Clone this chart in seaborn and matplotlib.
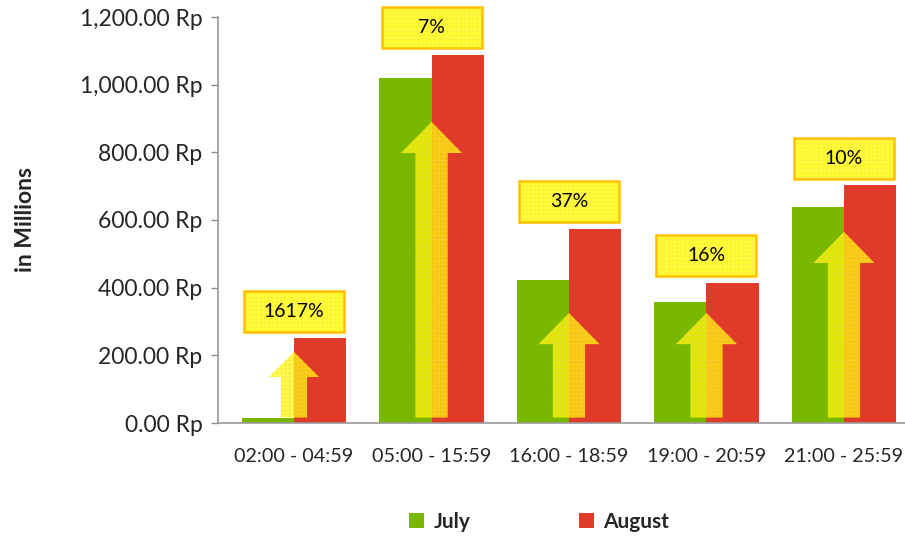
import matplotlib
matplotlib.use("Agg")
import matplotlib.pyplot as plt
import seaborn as sns
import pandas as pd
from matplotlib.patches import Polygon, Patch, Rectangle
from matplotlib.ticker import FuncFormatter
from matplotlib.transforms import ScaledTranslation

# ---- data ----
categories = ["02:00 - 04:59", "05:00 - 15:59", "16:00 - 18:59", "19:00 - 20:59", "21:00 - 25:59"]
july = [14.6, 1020, 423, 359, 638]
august = [251, 1088, 574, 415, 703]
growth_labels = ["1617%", "7%", "37%", "16%", "10%"]
# decorative arrow tips (data units)
arrow_tips = [210, 890, 325, 325, 565]

df = pd.DataFrame({
    "Slot": categories * 2,
    "Value": july + august,
    "Month": ["July"] * len(categories) + ["August"] * len(categories),
})

sns.set_theme(style="white")
plt.rcParams["font.family"] = ["Lato", "DejaVu Sans"]
plt.rcParams["hatch.linewidth"] = 0.6

GREEN = "#7AB800"
RED = "#E03A2A"

fig = plt.figure(figsize=(9.05, 5.38), dpi=100)
ax = fig.add_axes([218 / 905, 1 - 423 / 538, 702 / 905, 406 / 538])

sns.barplot(data=df, x="Slot", y="Value", hue="Month", order=categories,
            hue_order=["July", "August"], palette=[GREEN, RED],
            width=0.76, saturation=1, ax=ax, legend=False, edgecolor="none")

ax.set_xlim(-0.553, 4.553)
ax.set_ylim(0, 1200)
ax.set_yticks(range(0, 1201, 200))
ax.yaxis.set_major_formatter(FuncFormatter(lambda v, p: f"{v:,.2f} Rp"))
ax.tick_params(axis="y", labelsize=16.5, length=5, width=1, color="#8c8c8c",
               left=True, pad=6)
ax.tick_params(axis="x", labelsize=14.2, length=0, pad=18)
ax.set_xlabel("")
ax.set_ylabel("in Millions", fontsize=16.5, fontweight="bold", labelpad=32)
for s in ["top", "right"]:
    ax.spines[s].set_visible(False)
for s in ["left", "bottom"]:
    ax.spines[s].set_color("#9a9a9a")
    ax.spines[s].set_linewidth(1.2)

# ---- decorative arrows ----
for i, tip in enumerate(arrow_tips):
    if i == 0:
        sw, hw, hl = 0.095, 0.182, 74
    else:
        sw, hw, hl = 0.117, 0.222, 92
    base = 16
    pts = [(i - sw, base), (i - sw, tip - hl), (i - hw, tip - hl), (i, tip),
           (i + hw, tip - hl), (i + sw, tip - hl), (i + sw, base)]
    ax.add_patch(Polygon(pts, closed=True, facecolor=(1.0, 1.0, 0.0, 0.72),
                         edgecolor="none", zorder=5))
    ax.add_patch(Polygon(pts, closed=True, facecolor="none", linewidth=0,
                         edgecolor=(1.0, 0.82, 0.3, 0.6), hatch="++++", zorder=5))

# ---- growth labels in fixed-size boxes ----
for i, (lab, v) in enumerate(zip(growth_labels, august)):
    tr = fig.dpi_scale_trans + ScaledTranslation(i, v, ax.transData)
    ax.add_patch(Rectangle((-0.5, 0.065), 1.0, 0.41, transform=tr, clip_on=False,
                           facecolor="#FFFF30", edgecolor="none", zorder=6))
    ax.add_patch(Rectangle((-0.5, 0.065), 1.0, 0.41, transform=tr, clip_on=False,
                           facecolor="none", edgecolor=(1.0, 0.86, 0.35, 0.55),
                           linewidth=0, hatch="++++", zorder=6))
    ax.add_patch(Rectangle((-0.5, 0.065), 1.0, 0.41, transform=tr, clip_on=False,
                           facecolor="none", edgecolor="#FFC000", linewidth=1.8,
                           zorder=6))
    ax.text(0, 0.27, lab, transform=tr, ha="center", va="center",
            fontsize=14, color="black", zorder=7)

# ---- legend ----
handles = [Patch(facecolor=GREEN, edgecolor="none", label="July"),
           Patch(facecolor=RED, edgecolor="none", label="August")]
fig.legend(handles=handles, loc="center", bbox_to_anchor=(539 / 905, 1 - 522 / 538),
           ncol=2, frameon=False, handlelength=0.72, handleheight=0.72,
           handletextpad=0.45, columnspacing=5.2,
           prop={"weight": "bold", "size": 15})

fig.savefig("out.png", dpi=100)
